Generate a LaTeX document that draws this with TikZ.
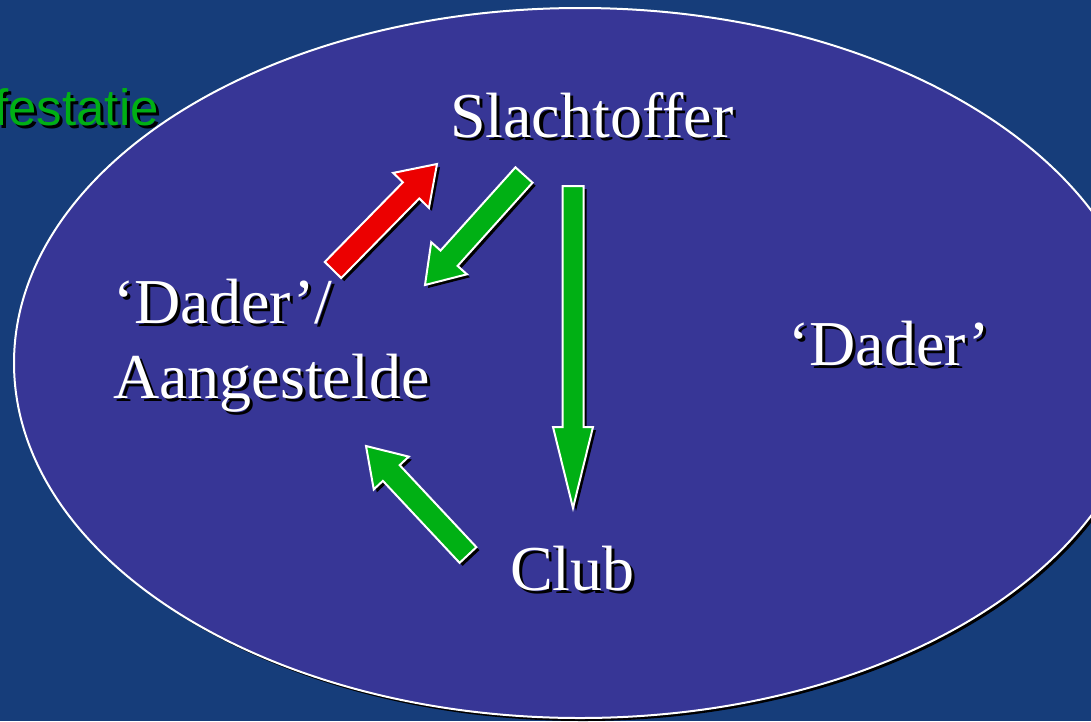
\documentclass[tikz,border=0pt]{standalone}
\usepackage{fontspec}
\setmainfont{Liberation Serif}
\newfontfamily\titlefont{Liberation Sans}
\usetikzlibrary{calc}
\definecolor{slidebg}{RGB}{22,61,122}
\definecolor{ovalfill}{RGB}{55,54,150}
\definecolor{arrowgreen}{RGB}{0,176,20}
\definecolor{arrowred}{RGB}{236,0,0}

% outline of a block arrow: tail, tip, shaft half width, head half width
\newcommand{\arrowoutline}[4]{%
  ($(#1)!#3!90:(#2)$) -- ($(#1hb)!#3!90:(#2)$) -- ($(#1hb)!#4!90:(#2)$)
  -- (#2) -- ($(#1hb)!#4!-90:(#2)$) -- ($(#1hb)!#3!-90:(#2)$)
  -- ($(#1)!#3!-90:(#2)$) -- cycle}
% colour, tail, tip, shaft half width, head half width, head length
\newcommand{\blockarrow}[6]{%
  \coordinate (#2hb) at ($(#3)!#6!(#2)$);
  \begin{scope}[transform canvas={shift={(3pt,-3pt)}}]
    \fill[black] \arrowoutline{#2}{#3}{#4}{#5};
  \end{scope}
  \filldraw[arrowbody, fill=#1] \arrowoutline{#2}{#3}{#4}{#5};}
% name, anchor, position, text
\newcommand{\droplabel}[4]{%
  \node[slidetext, text=black, anchor=#2, xshift=3pt, yshift=-3pt] (#1shadow) at (#3) {#4};
  \node[slidetext, anchor=#2] (#1) at (#3) {#4};}

\begin{document}
\begin{tikzpicture}[
  x=1pt, y=-1pt,
  slidetext/.style={text=white, inner sep=0pt, align=left,
                    font=\fontsize{64}{75}\selectfont},
  titletext/.style={anchor=base east, inner sep=0pt,
                    font=\titlefont\fontsize{51}{60}\selectfont},
  arrowbody/.style={draw=white, line width=2pt, line join=miter},
  oval/.style={fill=ovalfill, draw=white, line width=2pt},
]
% --- Background and oval ---
\fill[slidebg] (0,0) rectangle (1091,721);
\useasboundingbox (0,0) rectangle (1091,721);

\node[titletext, text=black, xshift=3pt, yshift=-3pt] (titleshadow) at (159,125) {festatie};
\node[titletext, text=arrowgreen] (title) at (159,125) {festatie};

\begin{scope}[transform canvas={shift={(3pt,-3pt)}}]
  \fill[black] (580,363) ellipse [x radius=566, y radius=355];
\end{scope}
\draw[oval] (580,363) ellipse [x radius=566, y radius=355];

% --- Labels ---
\droplabel{victim}{base west}{450,137}{Slachtoffer}
\droplabel{agent}{base west}{113,323}{‘Dader’/}
\droplabel{employee}{base west}{113,398}{Aangestelde}
\droplabel{offender}{base west}{788,365}{‘Dader’}
\droplabel{club}{base west}{510,590}{Club}

% --- Block arrows ---
\coordinate (redtail) at (333,270);
\coordinate (redtip) at (437,164);
\coordinate (backtail) at (524,175);
\coordinate (backtip) at (425,285);
\coordinate (downtail) at (573,186);
\coordinate (downtip) at (573,508);
\coordinate (clubtail) at (468,555);
\coordinate (clubtip) at (366,446);

\blockarrow{arrowred}{redtail}{redtip}{11.5pt}{25pt}{37pt}
\blockarrow{arrowgreen}{backtail}{backtip}{11.5pt}{24pt}{36pt}
\blockarrow{arrowgreen}{downtail}{downtip}{10.5pt}{20pt}{81pt}
\blockarrow{arrowgreen}{clubtail}{clubtip}{11.5pt}{24pt}{37pt}
\end{tikzpicture}
\end{document}
